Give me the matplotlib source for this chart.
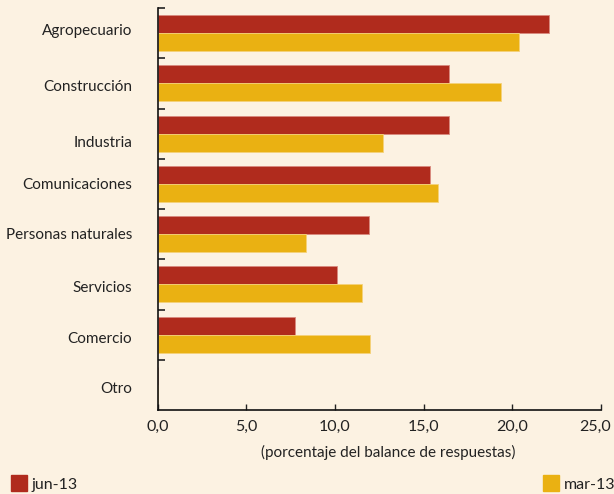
import matplotlib.pyplot as plt
import matplotlib.transforms as mtransforms
import numpy as np

# Datos del gráfico
categorias = ["Agropecuario", "Construcción", "Industria", "Comunicaciones",
              "Personas naturales", "Servicios", "Comercio", "Otro"]
jun13 = [22.1, 16.45, 16.45, 15.35, 11.9, 10.1, 7.75, 0.0]
mar13 = [20.4, 19.35, 12.7, 15.8, 8.35, 11.55, 11.95, 0.0]
xticks = [0, 5, 10, 15, 20, 25]
xticklabels = ["0,0", "5,0", "10,0", "15,0", "20,0", "25,0"]

# pequeños desplazamientos de las etiquetas, como en el original
desplaz = [-0.08, 0.05, 0.15, 0.0, -0.02, 0.04, 0.06, 0.06]

fondo = "#FCF2E2"
rojo = "#B02B1D"
amarillo = "#EAB112"
texto = "#222222"

plt.rcParams['font.family'] = ['Lato', 'DejaVu Sans']

fig = plt.figure(figsize=(6.14, 4.94), dpi=100, facecolor=fondo)
ax = fig.add_axes([0.2573, 0.170, 0.7208, 0.8138])
ax.set_facecolor(fondo)

y = np.arange(len(categorias))
h = 0.36
ax.barh(y - h / 2, jun13, height=h, color=rojo, edgecolor="#D98A7E", linewidth=0.6)
ax.barh(y + h / 2, mar13, height=h, color=amarillo, edgecolor="#F5D27A", linewidth=0.6)

ax.set_ylim(len(categorias) - 0.5, -0.5)
ax.set_xlim(0, 25)

ax.set_yticks(y + np.array(desplaz))
ax.set_yticklabels(categorias, fontsize=11, color=texto)
ax.set_yticks(np.arange(-0.5, len(categorias) - 0.5, 1), minor=True)
ax.tick_params(axis="y", which="major", length=0, pad=18.5)
ax.tick_params(axis="y", which="minor", direction="in", length=5, width=1.2, color=texto)

ax.set_xticks(xticks)
ax.set_xticklabels(xticklabels, fontsize=11.5, color=texto)
ax.tick_params(axis="x", direction="in", length=4, width=1, color=texto, pad=7)
ultimo = ax.get_xticklabels()[-1]
ultimo.set_transform(ultimo.get_transform() +
                     mtransforms.ScaledTranslation(-0.05, 0, fig.dpi_scale_trans))
ax.set_xlabel("(porcentaje del balance de respuestas)", fontsize=11, color=texto,
              labelpad=8, x=0.521)

for s in ["top", "right"]:
    ax.spines[s].set_visible(False)
for s in ["left", "bottom"]:
    ax.spines[s].set_linewidth(1.2)
    ax.spines[s].set_color("#111111")

# Leyenda manual en las esquinas inferiores
fig.patches.append(plt.Rectangle((11 / 614, 1 - 491 / 494), 16 / 614, 16 / 494,
                                 transform=fig.transFigure, color=rojo))
fig.text(32 / 614, 1 - 489 / 494, "jun-13", fontsize=11.5, va="baseline", color=texto)
fig.patches.append(plt.Rectangle((543 / 614, 1 - 491 / 494), 16 / 614, 16 / 494,
                                 transform=fig.transFigure, color=amarillo))
fig.text(564 / 614, 1 - 489 / 494, "mar-13", fontsize=11.5, va="baseline", color=texto)

fig.savefig("out.png", dpi=100, facecolor=fondo)
